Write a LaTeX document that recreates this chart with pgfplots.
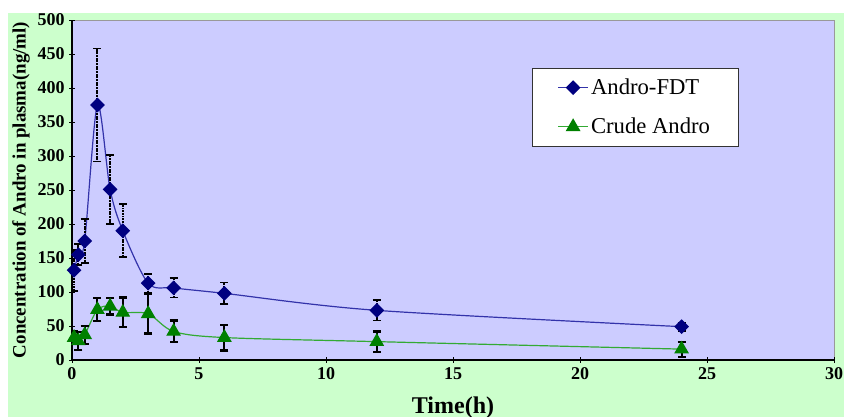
\documentclass[border=0pt]{standalone}
\usepackage{pgfplots}
\pgfplotsset{compat=1.18}
\usepackage{fontspec}
\setmainfont{Liberation Serif}
\definecolor{outergreen}{RGB}{204,255,204}
\definecolor{plotbg}{RGB}{204,204,255}
\definecolor{fdtline}{RGB}{51,51,170}
\definecolor{fdtmark}{RGB}{0,0,128}
\definecolor{crudeline}{RGB}{51,170,51}
\definecolor{crudemark}{RGB}{0,128,0}
\begin{document}
\begin{tikzpicture}
\fill[white] (0pt,0pt) rectangle (633pt,312.75pt);
\fill[outergreen] (6pt,0pt) rectangle (633pt,303pt);
\begin{axis}[
    at={(54pt,42.75pt)},
    anchor=south west,
    scale only axis,
    width=571.5pt,
    height=255pt,
    xmin=0, xmax=30,
    ymin=0, ymax=500,
    xtick={0,5,...,30},
    ytick={0,50,...,500},
    tick align=inside,
    major tick length=4pt,
    tick style={black, line width=0.6pt},
    axis lines=left,
    axis line style={-, black, line width=0.9pt},
    axis background/.style={fill=plotbg, draw=gray!80},
    ticklabel style={font=\fontsize{13.5}{13.5}\bfseries\selectfont},
    /pgf/number format/assume math mode=true,
    xlabel={Time(h)},
    ylabel={Concentration of Andro in plasma(ng/ml)},
    xlabel style={font=\fontsize{18}{18}\bfseries\selectfont, yshift=-6pt},
    ylabel style={font=\fontsize{14.2}{14.2}\bfseries\selectfont, yshift=-1pt},
    legend image code/.code={
        \draw[mark repeat=2,mark phase=2,#1] plot coordinates {(0pt,0pt) (11pt,0pt) (22pt,0pt)};
    },
    legend style={at={(0.604,0.859)}, anchor=north west, draw=black!80, fill=white,
        font=\fontsize{17}{17}\selectfont, inner xsep=19pt, inner ysep=6pt,
        row sep=12pt},
    legend cell align=left,
]
\addplot[fdtline, line width=0.9pt, smooth, tension=0.5,
    mark=diamond*, mark size=4.9pt, mark options={fdtmark, fill=fdtmark, xscale=1.33},
    error bars/.cd, y dir=both, y explicit,
    error bar style={black, line width=1.4pt, dash pattern=on 1.4pt off 0.6pt},
    error mark options={rotate=90, mark size=3pt, black, line width=1.4pt}]
coordinates {
(0.083,132) +- (0,30)
(0.25,155) +- (0,15)
(0.5,175) +- (0,32)
(1,375) +- (0,83)
(1.5,251) +- (0,51)
(2,190) +- (0,39)
(3,113) +- (0,14)
(4,106) +- (0,14)
(6,98) +- (0,16)
(12,73) +- (0,15)
(24,49) +- (0,6)
};
\addlegendentry{Andro-FDT}
\addplot[crudeline, line width=0.9pt, smooth, tension=0.5,
    mark=triangle*, mark size=5.5pt, mark options={crudemark, fill=crudemark},
    error bars/.cd, y dir=both, y explicit,
    error bar style={black, line width=1.6pt},
    error mark options={rotate=90, mark size=3pt, black, line width=1.6pt}]
coordinates {
(0.083,33) +- (0,10)
(0.25,28) +- (0,13)
(0.5,37) +- (0,13)
(1,74) +- (0,17)
(1.5,79) +- (0,12)
(2,70) +- (0,22)
(3,68) +- (0,29)
(4,42) +- (0,16)
(6,33) +- (0,19)
(12,27) +- (0,15)
(24,16) +- (0,11)
};
\addlegendentry{Crude Andro}
\end{axis}
\pgfresetboundingbox
\path (0pt,0pt) rectangle (633pt,312.75pt);
\end{tikzpicture}
\end{document}
